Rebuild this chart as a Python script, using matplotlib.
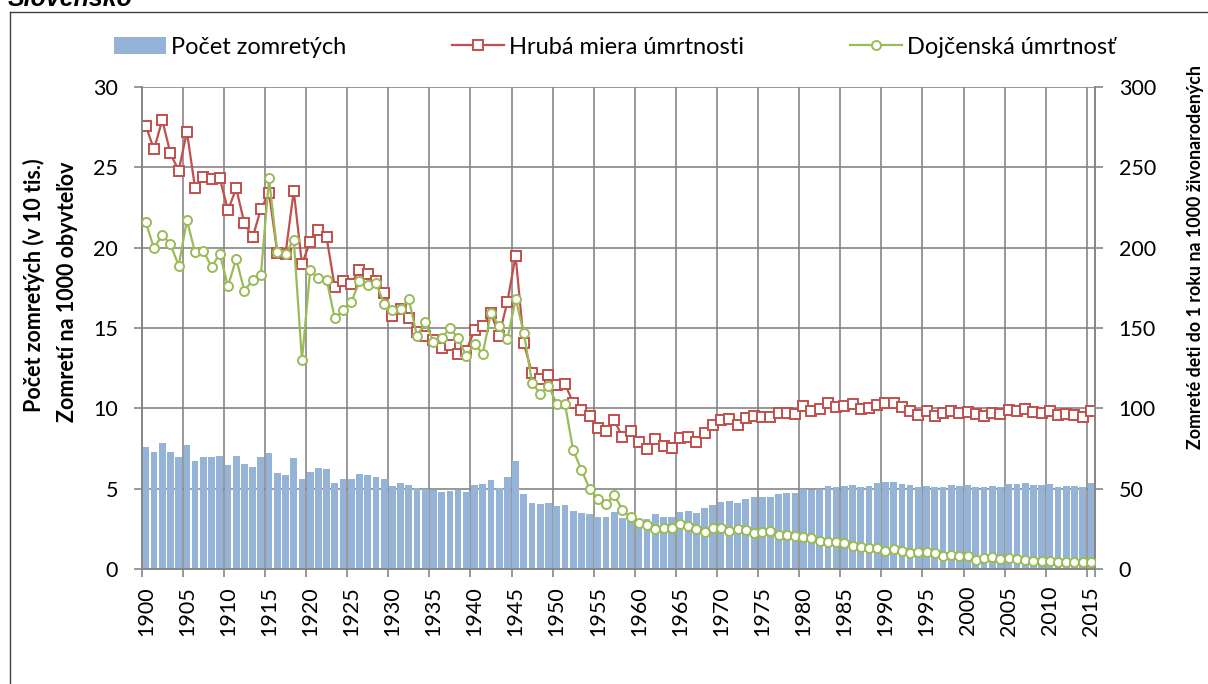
import matplotlib
matplotlib.use("Agg")
import matplotlib.pyplot as plt
from matplotlib.lines import Line2D
from matplotlib.patches import Patch
from matplotlib.ticker import FixedLocator, NullFormatter

plt.rcParams["font.family"] = ["Lato", "DejaVu Sans"]

years = list(range(1900, 2016))

# Počet zomretých (v 10 tis.)
deaths = [
    7.62, 7.27, 7.83, 7.27, 7.00, 7.73, 6.75, 7.00, 7.00, 7.04,
    6.48, 7.04, 6.57, 6.38, 6.98, 7.25, 5.97, 5.84, 6.92, 5.63,
    6.07, 6.30, 6.26, 5.39, 5.59, 5.59, 5.92, 5.86, 5.76, 5.61,
    5.18, 5.34, 5.24, 5.03, 4.97, 4.93, 4.81, 4.89, 4.93, 4.83,
    5.24, 5.30, 5.55, 5.05, 5.76, 6.73, 4.70, 4.10, 4.06, 4.12,
    3.94, 4.00, 3.65, 3.52, 3.44, 3.27, 3.23, 3.54, 3.17, 3.11,
    3.02, 3.10, 3.42, 3.27, 3.25, 3.58, 3.63, 3.52, 3.79, 4.02,
    4.18, 4.25, 4.10, 4.35, 4.47, 4.52, 4.52, 4.66, 4.72, 4.76,
    4.99, 4.93, 4.99, 5.18, 5.14, 5.18, 5.24, 5.14, 5.18, 5.34,
    5.41, 5.41, 5.30, 5.22, 5.10, 5.20, 5.10, 5.14, 5.24, 5.20,
    5.22, 5.14, 5.10, 5.16, 5.14, 5.30, 5.28, 5.34, 5.26, 5.26,
    5.30, 5.14, 5.18, 5.16, 5.10, 5.34,
]

# Hrubá miera úmrtnosti (na 1000 obyvateľov)
crude_rate = [
    27.55, 26.10, 27.93, 25.85, 24.78, 27.20, 23.68, 24.36, 24.24, 24.30,
    22.33, 23.68, 21.50, 20.63, 22.40, 23.37, 19.68, 19.60, 23.53, 18.98,
    20.36, 21.09, 20.63, 17.53, 17.94, 17.75, 18.63, 18.35, 17.92, 17.15,
    15.74, 16.16, 15.64, 14.77, 14.50, 14.25, 13.78, 13.94, 13.36, 13.59,
    14.87, 15.12, 15.91, 14.52, 16.64, 19.49, 14.05, 12.18, 11.83, 12.08,
    11.46, 11.52, 10.36, 9.88, 9.51, 8.78, 8.60, 9.28, 8.20, 8.60,
    7.89, 7.50, 8.08, 7.69, 7.56, 8.18, 8.20, 7.93, 8.45, 8.97,
    9.28, 9.34, 8.97, 9.38, 9.53, 9.49, 9.45, 9.70, 9.74, 9.65,
    10.15, 9.86, 9.94, 10.32, 10.11, 10.15, 10.25, 9.94, 10.00, 10.21,
    10.32, 10.36, 10.07, 9.86, 9.59, 9.82, 9.51, 9.72, 9.84, 9.72,
    9.78, 9.65, 9.55, 9.72, 9.65, 9.90, 9.86, 9.96, 9.80, 9.72,
    9.82, 9.59, 9.67, 9.61, 9.47, 9.86,
]

# Dojčenská úmrtnosť (na 1000 živonarodených)
infant_rate = [
    215.7, 199.5, 208.0, 202.0, 188.7, 217.0, 197.0, 198.0, 188.0, 196.0,
    176.0, 193.0, 173.0, 180.0, 183.0, 243.0, 197.0, 196.0, 205.0, 130.0,
    186.0, 181.0, 180.0, 156.0, 161.0, 166.0, 179.0, 177.0, 178.0, 165.0,
    161.0, 162.0, 168.0, 145.0, 153.5, 141.5, 143.6, 150.0, 143.6, 132.6,
    140.0, 134.0, 159.5, 151.0, 143.0, 168.0, 147.0, 116.0, 109.0, 114.0,
    103.0, 103.0, 74.0, 62.0, 50.0, 44.0, 40.6, 46.2, 36.9, 32.3,
    28.6, 27.6, 25.1, 25.9, 25.5, 28.2, 26.9, 24.9, 23.0, 25.5,
    25.5, 24.0, 25.1, 24.4, 22.8, 23.4, 24.0, 21.3, 21.3, 20.7,
    20.3, 19.3, 17.6, 17.2, 16.8, 16.2, 14.7, 13.7, 13.1, 13.1,
    11.6, 12.6, 11.6, 10.4, 11.0, 10.6, 9.9, 8.5, 8.9, 8.3,
    8.3, 5.8, 7.3, 7.5, 6.4, 6.8, 6.2, 5.8, 5.4, 5.4,
    5.4, 4.8, 4.8, 4.8, 4.8, 4.4,
]

label_years = list(range(1900, 2016, 5))
left_ticks = [0, 5, 10, 15, 20, 25, 30]
right_ticks = [0, 50, 100, 150, 200, 250, 300]

BLUE = "#95B3D7"
RED = "#C0504D"
GREEN = "#9BBB59"
GRID = "#868686"

W, H = 1208, 684
fig = plt.figure(figsize=(W / 100, H / 100), dpi=100)

# chart frame (only left and top edges are visible in the crop)
fig.add_artist(Line2D([10 / W, 10 / W], [0, 1 - 12 / H], transform=fig.transFigure,
                      color="#404040", lw=1.0))
fig.add_artist(Line2D([10 / W, 1], [1 - 12 / H, 1 - 12 / H], transform=fig.transFigure,
                      color="#404040", lw=1.0))
fig.text(8 / W, 1 - 6 / H, "Slovensko", fontsize=18, fontweight="bold",
         fontstyle="italic", family=["Liberation Sans", "DejaVu Sans"],
         ha="left", va="baseline")

x0, x1 = 141.7, 1095.0
y_top, y_bot = 86.7, 569.3
ax = fig.add_axes([x0 / W, 1 - y_bot / H, (x1 - x0) / W, (y_bot - y_top) / H])
ax2 = ax.twinx()

ax.bar(years, deaths, width=0.82, color=BLUE, zorder=2)
ax.plot(years, crude_rate, color=RED, lw=1.6, marker="s", ms=6.5, mfc="white",
        mec=RED, mew=1.4, zorder=4)
ax2.plot(years, infant_rate, color=GREEN, lw=1.6, marker="o", ms=6.5, mfc="white",
         mec=GREEN, mew=1.4, zorder=4)

ax.set_xlim(1899.5, 2015.5)
ax.set_ylim(0, 30)
ax2.set_ylim(0, 300)
ax.set_yticks(left_ticks)
ax2.set_yticks(right_ticks)

# category boundaries carry the ticks and vertical gridlines, labels sit on categories
ax.xaxis.set_major_locator(FixedLocator([y - 0.5 for y in label_years] + [2015.5]))
ax.xaxis.set_major_formatter(NullFormatter())
ax.xaxis.set_minor_locator(FixedLocator(label_years))
ax.set_xticklabels([str(y) for y in label_years], minor=True, rotation=90)
ax.tick_params(axis="x", which="minor", length=0, pad=12, labelsize=15.5)
ax.tick_params(axis="x", which="major", length=6, color=GRID, width=1.2)
ax.tick_params(axis="y", length=6, color=GRID, width=1.2, labelsize=15.5, pad=11)
ax2.tick_params(axis="y", length=6, color=GRID, width=1.2, labelsize=15.5, pad=11)

ax.set_axisbelow(True)
ax.grid(True, axis="both", which="major", color=GRID, lw=1.2)
for a in (ax, ax2):
    a.spines["top"].set_visible(False)
    for s in ("left", "right", "bottom"):
        a.spines[s].set_color(GRID)
        a.spines[s].set_linewidth(1.2)

fig.text(34 / W, 1 - 285 / H, "Počet zomretých (v 10 tis.)", rotation=90,
         fontsize=15.5, fontweight="bold", ha="center", va="center")
fig.text(68 / W, 1 - 292 / H, "Zomretí na 1000 obyvteľov", rotation=90,
         fontsize=15.5, fontweight="bold", ha="center", va="center")
fig.text(1195 / W, 1 - 257 / H, "Zomreté deti do 1 roku na 1000 živonarodených",
         rotation=90, fontsize=12.8, fontweight="bold", ha="center", va="center")

handles = [
    Patch(facecolor=BLUE, edgecolor="none"),
    Line2D([], [], color=RED, lw=1.6, marker="s", ms=6.5, mfc="white", mec=RED, mew=1.4),
    Line2D([], [], color=GREEN, lw=1.6, marker="o", ms=6.5, mfc="white", mec=GREEN, mew=1.4),
]
labels = ["Počet zomretých", "Hrubá miera úmrtnosti", "Dojčenská úmrtnosť"]
fig.legend(handles, labels, loc="center left", bbox_to_anchor=(114 / W, 1 - 47 / H),
           ncol=3, frameon=False, fontsize=17, handlelength=2.2, handleheight=0.75,
           handletextpad=0.2, columnspacing=4.5, borderaxespad=0, borderpad=0)

fig.savefig("out.png", dpi=100, facecolor="white")
